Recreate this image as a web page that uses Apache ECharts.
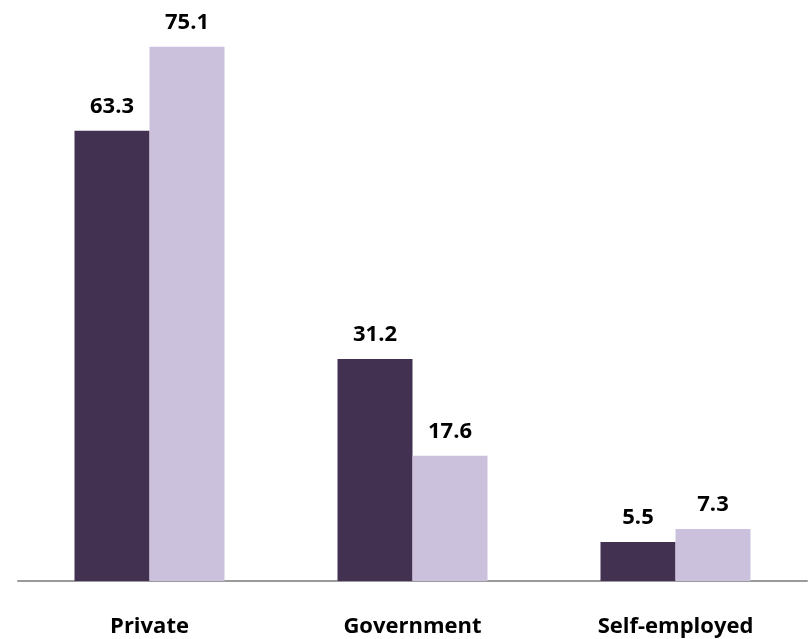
<!DOCTYPE html>
<html>
<head>
<meta charset="utf-8">
<script src="https://cdn.jsdelivr.net/npm/echarts@6/dist/echarts.min.js"></script>
<style>
  html, body { margin: 0; padding: 0; background: #ffffff; }
  #chart { width: 812px; height: 639px; }
</style>
</head>
<body>
<div id="chart"></div>
<script>
// Employment sector shares (%), two survey groups
const categories = ['Private', 'Government', 'Self-employed'];
const seriesA = [63.3, 31.2, 5.5];
const seriesB = [75.1, 17.6, 7.3];

const labelFont = { fontFamily: '"Open Sans"', fontWeight: 700, fontSize: 22, color: '#000000' };

const chart = echarts.init(document.getElementById('chart'), null, { renderer: 'canvas' });
chart.setOption({
  animation: false,
  backgroundColor: '#ffffff',
  grid: { left: 18, right: 5, top: 12, bottom: 58, containLabel: false },
  xAxis: {
    type: 'category',
    data: categories,
    axisLine: { show: true, lineStyle: { color: '#9a9a9a', width: 2 } },
    axisTick: { show: false },
    axisLabel: Object.assign({ margin: 35 }, labelFont)
  },
  yAxis: {
    type: 'value',
    min: 0,
    max: 80,
    show: false,
    splitLine: { show: false }
  },
  series: [
    {
      type: 'bar',
      data: seriesA,
      barWidth: 75,
      barGap: '0%',
      itemStyle: { color: '#433152' },
      label: Object.assign({ show: true, position: 'top', distance: 13 }, labelFont)
    },
    {
      type: 'bar',
      data: seriesB,
      barWidth: 75,
      barGap: '0%',
      itemStyle: { color: '#cbc1dc' },
      label: Object.assign({ show: true, position: 'top', distance: 13 }, labelFont)
    }
  ]
});
</script>
</body>
</html>
